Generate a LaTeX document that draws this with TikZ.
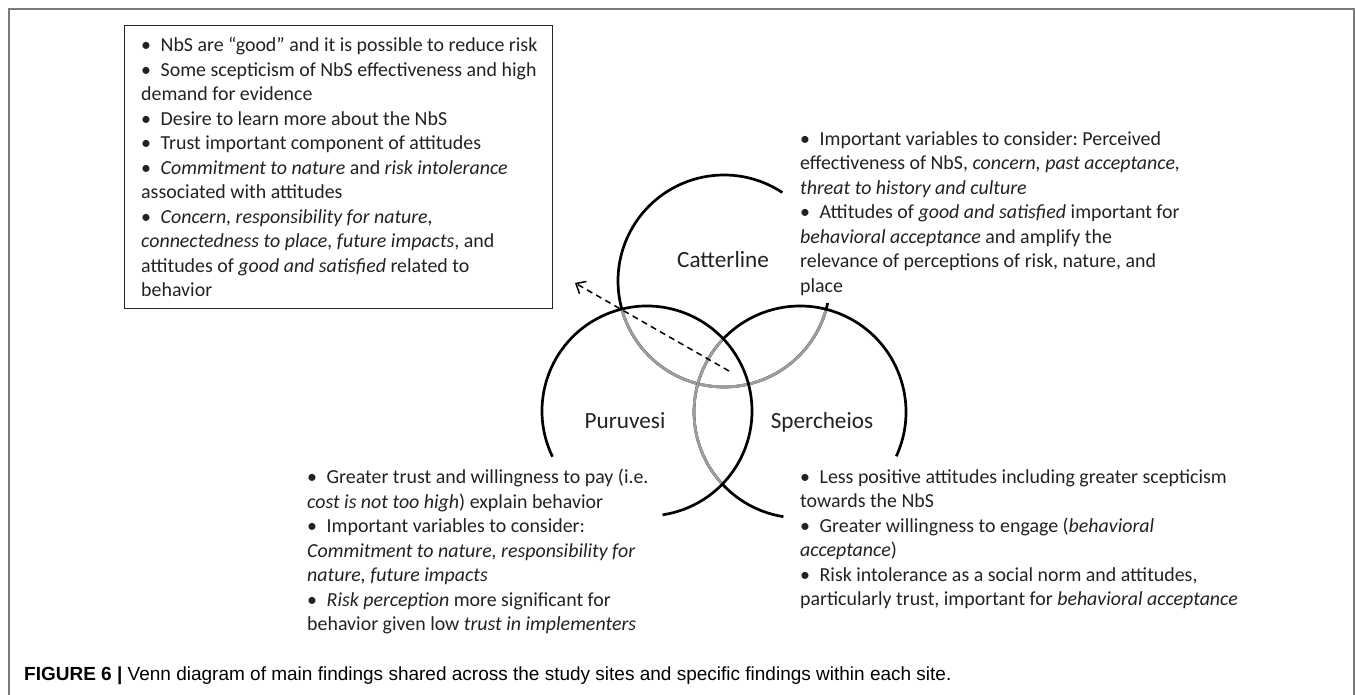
\documentclass[tikz,border=0pt]{standalone}
\usepackage{fontspec}
\setmainfont{Carlito}
\newfontfamily\capfont{Liberation Sans}
\usetikzlibrary{arrows.meta}
\definecolor{framegray}{HTML}{7A7A7A}
\definecolor{venngray}{HTML}{9E9E9E}
\definecolor{txt}{HTML}{222222}
\newcommand{\bul}{\makebox[19.5pt][l]{•}}
\tikzset{
  venn/.style={line width=2.7pt, black},
  venngr/.style={line width=2.7pt, venngray},
  body/.style={anchor=north west, inner sep=0pt, align=left, text=txt,
    font=\fontsize{19.9}{24.5}\selectfont\frenchspacing},
  sitelabel/.style={anchor=base, inner sep=0pt, text=txt,
    font=\fontsize{23.2}{27}\selectfont},
  dasharrow/.style={line width=1.5pt, dash pattern=on 6pt off 4.5pt,
    -{Straight Barb[length=8pt,width=14pt]}},
  framebox/.style={draw=black!85, line width=1.3pt, anchor=north west, inner sep=0pt}
}
\begin{document}
\begin{tikzpicture}[x=1pt,y=1pt]
\useasboundingbox (0,0) rectangle (1355,-695);
\fill[white] (0,0) rectangle (1355,-695);
% outer frame
\draw[framegray, line width=1.4pt] (9,-695) -- (9,-9) -- (1354,-9) -- (1354,-695);

% circle centres
\coordinate (C) at (724,-281);
\coordinate (P) at (647,-411);
\coordinate (S) at (800,-412);

% Catterline
\draw[venn] (C) ++(56.6:106pt) arc[start angle=56.6, end angle=348, radius=106pt];
\begin{scope}
  \clip (P) circle[radius=105pt];
  \draw[venngr] (C) ++(56.6:106pt) arc[start angle=56.6, end angle=348, radius=106pt];
\end{scope}
\begin{scope}
  \clip (S) circle[radius=106pt];
  \draw[venngr] (C) ++(56.6:106pt) arc[start angle=56.6, end angle=348, radius=106pt];
\end{scope}
% Spercheios
\draw[venn] (S) ++(-24.7:106pt) arc[start angle=-24.7, end angle=261, radius=106pt];
\begin{scope}
  \clip (P) circle[radius=105pt];
  \draw[venngr] (S) ++(-24.7:106pt) arc[start angle=-24.7, end angle=261, radius=106pt];
\end{scope}
% Puruvesi
\draw[venn] (P) ++(205.8:105pt) arc[start angle=205.8, end angle=-81.5, radius=105pt];

% labels
\node[sitelabel] (lC) at (723,-268) {Catterline};
\node[sitelabel] (lP) at (625,-428) {Puruvesi};
\node[sitelabel] (lS) at (822,-428) {Spercheios};

% shared findings box
\node[framebox, minimum width=428pt, minimum height=283pt] (box) at (124,-25) {};
\node[body] (boxtext) at (141,-37) {%
\bul NbS are “good” and it is possible to reduce risk\\
\bul Some scepticism of NbS effectiveness and high\\
demand for evidence\\
\bul Desire to learn more about the NbS\\
\bul Trust important component of attitudes\\
\bul \textit{Commitment to nature} and \textit{risk intolerance}\\
associated with attitudes\\
\bul \textit{Concern, responsibility for nature,}\\
\textit{connectedness to place, future impacts}, and\\
attitudes of \textit{good and satisfied} related to\\
behavior};

% Catterline findings
\node[body] (ctext) at (800,-131) {%
\bul Important variables to consider: Perceived\\
effectiveness of NbS, \textit{concern, past acceptance,}\\
\textit{threat to history and culture}\\
\bul Attitudes of \textit{good and satisfied} important for\\
\textit{behavioral acceptance} and amplify the\\
relevance of perceptions of risk, nature, and\\
place};

% Puruvesi findings
\node[body] (ptext) at (307,-469) {%
\bul Greater trust and willingness to pay (i.e.\\
\textit{cost is not too high}) explain behavior\\
\bul Important variables to consider:\\
\textit{Commitment to nature, responsibility for}\\
\textit{nature, future impacts}\\
\bul \textit{Risk perception} more significant for\\
behavior given low \textit{trust in implementers}};

% Spercheios findings
\node[body] (stext) at (800,-469) {%
\bul Less positive attitudes including greater scepticism\\
towards the NbS\\
\bul Greater willingness to engage (\textit{behavioral}\\
\textit{acceptance})\\
\bul Risk intolerance as a social norm and attitudes,\\
particularly trust, important for \textit{behavioral acceptance}};

% dashed arrow toward shared box
\coordinate (arrTail) at (729,-371);
\coordinate (arrTip) at (575,-283);
\draw[dasharrow] (arrTail) -- (arrTip);

% caption
\node[anchor=base west, inner sep=0pt, font=\capfont\fontsize{19}{22}\selectfont] (caption) at (24,-680)
  {\textbf{FIGURE 6 |} Venn diagram of main findings shared across the study sites and specific findings within each site.};
\end{tikzpicture}
\end{document}
